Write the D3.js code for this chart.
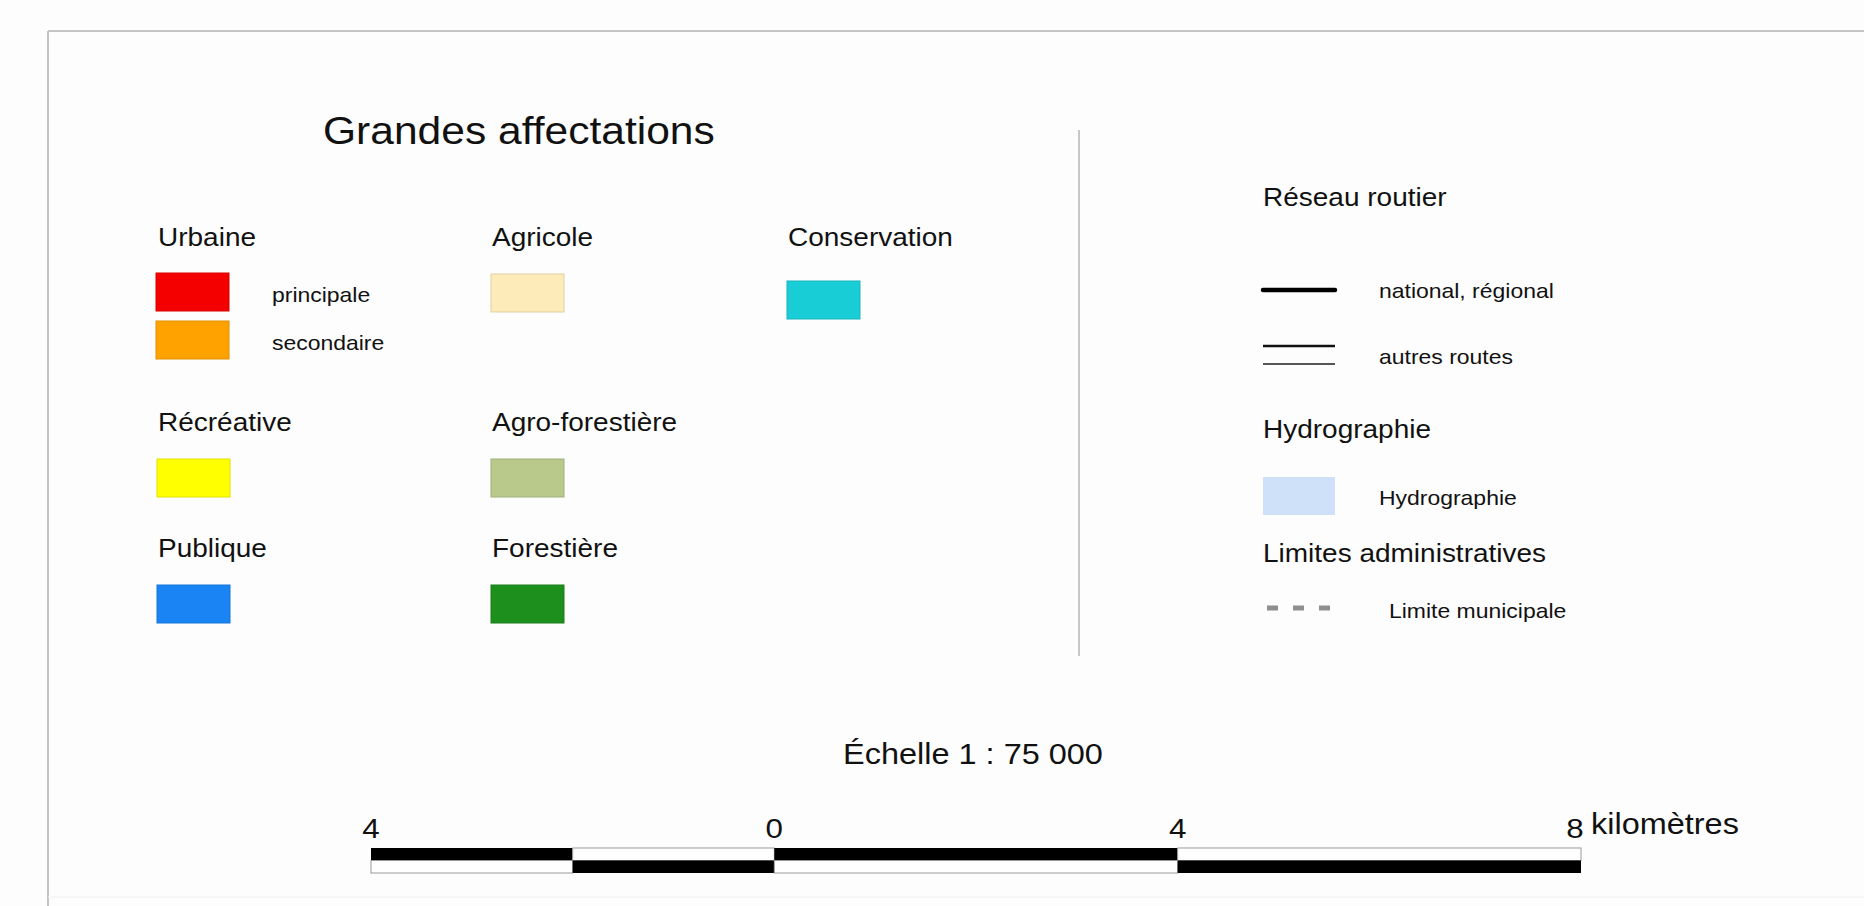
<!DOCTYPE html>
<html>
<head>
<meta charset="utf-8">
<script src="https://cdn.jsdelivr.net/npm/d3@7"></script>
<style>
  body { margin: 0; background: #fdfdfd; }
  text { font-family: "Liberation Sans", Arial, sans-serif; fill: #111; }
</style>
</head>
<body>
<div id="map"></div>
<script>
// Legend data
const groupNames = ["Urbaine", "Agricole", "Conservation", "Récréative", "Agro-forestière", "Publique", "Forestière"];
const groupColors = [null, "#fdecb9", "#19cdd6", "#ffff00", "#b8c98b", "#1a84f4", "#1d8f1d"];
const urbanNames = ["principale", "secondaire"];
const urbanColors = ["#f50000", "#ffa200"];

const routeNames = ["national, régional", "autres routes"];
const hydroNames = ["Hydrographie"];
const limitNames = ["Limite municipale"];

// Scale bar (km)
const barBreaks = [-4, -2, 0, 4, 8];
const barTicks = [-4, 0, 4, 8];
const barTickLabels = ["4", "0", "4", "8"];

const WIDTH = 1864;
const HEIGHT = 906;
const SX = 1.12; // text in the source looks a bit wide

const svg = d3
  .select("#map")
  .append("svg")
  .attr("width", WIDTH)
  .attr("height", HEIGHT);

// text helper: x,y = left (or anchor) / vertical centre
function label(x, y, txt, size, anchor) {
  return svg
    .append("text")
    .attr("transform", "translate(" + x + "," + y + ") scale(" + SX + ",1)")
    .attr("dominant-baseline", "central")
    .attr("text-anchor", anchor || "start")
    .style("font-size", size + "px")
    .text(txt);
}

// Frame
svg.append("line").attr("x1", 48).attr("x2", WIDTH).attr("y1", 31).attr("y2", 31)
  .attr("stroke", "#c4c4c4").attr("stroke-width", 2);
svg.append("line").attr("x1", 48).attr("x2", 48).attr("y1", 31).attr("y2", HEIGHT)
  .attr("stroke", "#c4c4c4").attr("stroke-width", 2);
svg.append("line").attr("x1", 48).attr("x2", WIDTH).attr("y1", 897).attr("y2", 897)
  .attr("stroke", "#f0f0f0").attr("stroke-width", 1);

// Divider
svg.append("line").attr("x1", 1079).attr("x2", 1079).attr("y1", 130).attr("y2", 656)
  .attr("stroke", "#c8c8c8").attr("stroke-width", 2);

// Title
label(323, 131, "Grandes affectations", 38);

// Legend grid: 3 columns, 3 rows
const colX = d3.scaleOrdinal().domain([0, 1, 2]).range([158, 492, 788]);
const rowY = d3.scaleOrdinal().domain([0, 1, 2]).range([238, 423, 549]);
const SW = 73, SH = 38;

groupNames.forEach((name, i) => {
  const col = i === 0 ? 0 : i === 1 ? 1 : i === 2 ? 2 : (i - 3) % 2;
  const row = i < 3 ? 0 : i < 5 ? 1 : 2;
  const x = colX(col);
  const y = rowY(row);
  label(x, y, name, 25);
  if (groupColors[i]) {
    const c = d3.color(groupColors[i]);
    svg.append("rect")
      .attr("x", x - 1).attr("y", y + (i === 2 ? 43 : 36))
      .attr("width", SW).attr("height", SH)
      .attr("fill", groupColors[i])
      .attr("stroke", c.darker(0.35)).attr("stroke-width", 1);
  }
});

// Urbaine sub-classes
urbanNames.forEach((name, i) => {
  const x = colX(0) - 2, y = rowY(0) + 35 + i * 48;
  svg.append("rect").attr("x", x).attr("y", y).attr("width", SW).attr("height", SH)
    .attr("fill", urbanColors[i]).attr("stroke", d3.color(urbanColors[i]).darker(0.35));
  label(x + 116, y + SH / 2 + 3, name, 20.5);
});

// Right column
const RX = 1263, RL = 1379, RW = 72;
label(RX, 198, "Réseau routier", 25);

svg.append("line").attr("x1", RX).attr("x2", RX + RW).attr("y1", 290).attr("y2", 290)
  .attr("stroke", "#000").attr("stroke-width", 4.5).attr("stroke-linecap", "round");
label(RL, 291, routeNames[0], 20.5);

svg.append("line").attr("x1", RX).attr("x2", RX + RW).attr("y1", 346).attr("y2", 346)
  .attr("stroke", "#111").attr("stroke-width", 2.4);
svg.append("line").attr("x1", RX).attr("x2", RX + RW).attr("y1", 364).attr("y2", 364)
  .attr("stroke", "#555").attr("stroke-width", 2);
label(RL, 357, routeNames[1], 20.5);

label(RX, 430, "Hydrographie", 25);
svg.append("rect").attr("x", RX).attr("y", 477).attr("width", RW).attr("height", 38)
  .attr("fill", "#cfe1f8");
label(RL, 498, hydroNames[0], 20.5);

label(RX, 554, "Limites administratives", 25);
svg.append("line").attr("x1", RX + 4).attr("x2", RX + RW + 4).attr("y1", 608).attr("y2", 608)
  .attr("stroke", "#8f8f8f").attr("stroke-width", 5).attr("stroke-dasharray", "11,15");
label(RL + 10, 611, limitNames[0], 20.5);

// Scale
label(973, 754, "Échelle 1 : 75 000", 29, "middle");

const km = d3.scaleLinear().domain([-4, 8]).range([371, 1581]);
const barTop = 848, rowH = 12.5;

d3.pairs(barBreaks).forEach(([a, b], i) => {
  const blackTop = i % 2 === 0;
  svg.append("rect")
    .attr("x", km(a)).attr("y", barTop).attr("width", km(b) - km(a)).attr("height", rowH)
    .attr("fill", blackTop ? "#000" : "#fff")
    .attr("stroke", blackTop ? "none" : "#999").attr("stroke-width", 1);
  svg.append("rect")
    .attr("x", km(a)).attr("y", barTop + rowH).attr("width", km(b) - km(a)).attr("height", rowH)
    .attr("fill", blackTop ? "#fff" : "#000")
    .attr("stroke", blackTop ? "#999" : "none").attr("stroke-width", 1);
});

barTicks.forEach((t, i) => {
  label(km(t) - (i === 3 ? 6 : 0), 828, barTickLabels[i], 28, "middle");
});
label(km(8) + 10, 824, "kilomètres", 29);
</script>
</body>
</html>
